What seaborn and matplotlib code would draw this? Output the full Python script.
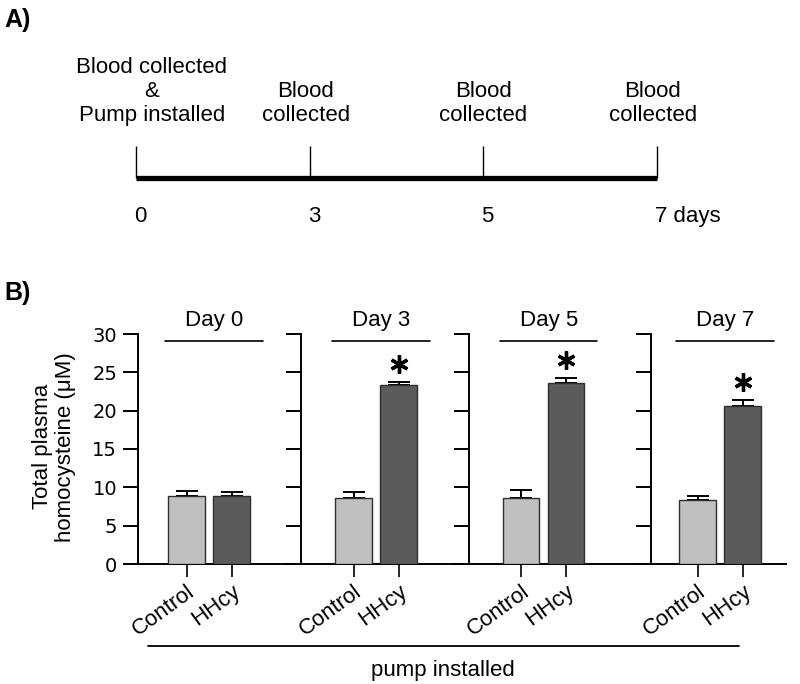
import numpy as np
import pandas as pd
import matplotlib
matplotlib.use("Agg")
import matplotlib.pyplot as plt
from matplotlib.lines import Line2D
import seaborn as sns

# Panel A: sampling timeline
timeline_days = ["0", "3", "5", "7 days"]
timeline_notes = ["Blood collected\n&\nPump installed", "Blood\ncollected",
                  "Blood\ncollected", "Blood\ncollected"]

# Panel B: total plasma homocysteine (uM), mean and SEM
days = ["Day 0", "Day 3", "Day 5", "Day 7"]
groups = ["Control", "HHcy"]
control_mean = [8.85, 8.65, 8.65, 8.3]
control_sem = [0.65, 0.7, 1.0, 0.55]
hhcy_mean = [8.9, 23.3, 23.65, 20.6]
hhcy_sem = [0.45, 0.5, 0.6, 0.85]
significant = [False, True, True, True]
yticks = [0, 5, 10, 15, 20, 25, 30]

rows = []
for i, day in enumerate(days):
    rows.append({"day": day, "group": "Control", "value": control_mean[i], "sem": control_sem[i]})
    rows.append({"day": day, "group": "HHcy", "value": hhcy_mean[i], "sem": hhcy_sem[i]})
df = pd.DataFrame(rows)

sns.set_style("white")
plt.rcParams["font.family"] = ["Liberation Sans", "DejaVu Sans"]
for k in ["text.color", "axes.labelcolor", "xtick.color", "ytick.color", "axes.edgecolor"]:
    plt.rcParams[k] = "black"
FS = 16

W, H = 800, 684
fig = plt.figure(figsize=(W / 100, H / 100), dpi=100)


def fx(px):
    return px / W


def fy(py):
    return 1 - py / H


# ---------------- Panel A ----------------
fig.text(fx(4), fy(27), "A)", fontsize=18, fontweight="bold", ha="left", va="baseline")

a_left, a_right, a_top, a_bot = 136, 657, 30, 235
ax_a = fig.add_axes([fx(a_left), fy(a_bot), (a_right - a_left) / W, (a_bot - a_top) / H])
ax_a.set_xlim(0, len(timeline_days) - 1)
ax_a.set_ylim(a_bot, a_top)  # pixel-like layout units, top down
ax_a.axis("off")

pos = np.arange(len(timeline_days))
line_y = 178
ax_a.plot(pos[[0, -1]], [line_y, line_y], color="black", lw=3.8,
          solid_capstyle="butt", clip_on=False)
ax_a.vlines(pos, 146, line_y, color="black", lw=1.0, clip_on=False)

note_shift = [16, -4, 0, -4]
for p, note, sh in zip(pos, timeline_notes, note_shift):
    ax_a.annotate(note, (p, 126), xytext=(sh * 0.72, 0), textcoords="offset points",
                  ha="center", va="bottom", fontsize=FS, linespacing=1.2,
                  annotation_clip=False)
for p, lab in zip(pos, timeline_days):
    ax_a.annotate(lab, (p, 222), xytext=(-2 * 0.72, 0), textcoords="offset points",
                  ha="left", va="baseline", fontsize=FS, annotation_clip=False)

# ---------------- Panel B ----------------
fig.text(fx(4), fy(300), "B)", fontsize=18, fontweight="bold", ha="left", va="baseline")

axis_px = [138, 301, 469, 651, 786]
bar0_px = [186.5, 353.5, 521, 697.5]
unit_px = 45
top_px, base_px = 334, 564
palette = {"Control": "#c0c0c0", "HHcy": "#5b5b5b"}

for i, day in enumerate(days):
    left, right = axis_px[i], axis_px[i + 1]
    ax = fig.add_axes([fx(left), fy(base_px), (right - left) / W, (base_px - top_px) / H])
    sub = df[df["day"] == day]
    sns.barplot(data=sub, x="group", y="value", hue="group", order=groups,
                hue_order=groups, palette=palette, width=0.82, saturation=1,
                edgecolor="#2e2e2e", linewidth=1.0, errorbar=None, legend=False,
                ax=ax, zorder=3)
    ax.errorbar(np.arange(len(groups)), sub["value"].values,
                yerr=[np.zeros(len(groups)), sub["sem"].values],
                fmt="none", ecolor="black", elinewidth=1.4, capsize=8, capthick=1.4,
                zorder=2)
    ax.set_xlim((left - bar0_px[i]) / unit_px, (right - bar0_px[i]) / unit_px)
    ax.set_ylim(0, 30)
    ax.set_yticks(yticks)
    ax.set_xlabel("")
    ax.set_ylabel("")
    for s in ["top", "right"]:
        ax.spines[s].set_visible(False)
    for s in ["left", "bottom"]:
        ax.spines[s].set_linewidth(1.4)
        ax.spines[s].set_color("black")
    ax.tick_params(axis="y", direction="out", length=11, width=1.4, color="black",
                   left=True, pad=4)
    ax.tick_params(axis="x", direction="out", length=9, width=1.2, color="black",
                   bottom=True, pad=3)
    ax.set_xticks(np.arange(len(groups)))
    ax.set_xticklabels(groups, rotation=36, ha="right", rotation_mode="anchor",
                       fontsize=FS)
    if i == 0:
        for t in ax.get_yticklabels():
            t.set_fontfamily("DejaVu Sans")
            t.set_fontsize(14)
        ax.set_ylabel("Total plasma\nhomocysteine (\u03bcM)", fontsize=FS, linespacing=1.15)
        ax.yaxis.set_label_coords(-0.38, 0.51)
    else:
        ax.set_yticklabels([])

    # day header with bar underneath
    ax.text(0.62, 31.7, day, ha="center", va="center", fontsize=FS, clip_on=False)
    ax.plot([-0.47, 1.69], [29.1, 29.1], color="black", lw=1.2, clip_on=False)

    if significant[i]:
        top = hhcy_mean[i] + hhcy_sem[i]
        ax.plot([1], [top + 2.3], marker=(6, 2, 0), markersize=13, mew=2.4,
                color="black", clip_on=False, zorder=4)

# bracket for the pump period
fig.add_artist(Line2D([fx(148), fx(739)], [fy(646), fy(646)], color="black", lw=1.3))
fig.text(fx(443), fy(676), "pump installed", ha="center", va="baseline", fontsize=FS)

fig.savefig("out.png", dpi=100)
